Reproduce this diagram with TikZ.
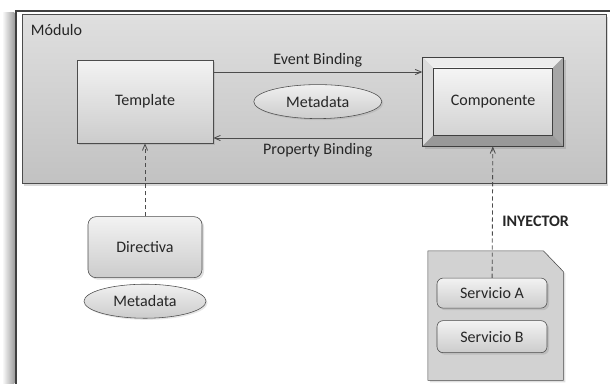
\documentclass[tikz,border=0pt]{standalone}
\usepackage{fontspec}
\setmainfont{Carlito}
\usetikzlibrary{shapes,arrows,positioning,shadows,calc}

\begin{document}
\begin{tikzpicture}[
    font=\fontsize{11.4}{13}\selectfont,
    node distance=1cm,
    box/.style={rectangle, draw=gray!60!black, top color=gray!10, bottom color=gray!40, minimum width=3.4cm, minimum height=2.075cm, align=center, text=black!85, drop shadow={opacity=0.25, shadow xshift=0.05cm, shadow yshift=-0.05cm}},
    roundbox/.style={box, rounded corners=0.2cm},
    meta/.style={ellipse, draw=gray!60!black, top color=gray!12, bottom color=gray!40, minimum width=3.2cm, minimum height=0.85cm, inner sep=0pt, text=black!85, drop shadow={opacity=0.2, shadow xshift=0.04cm, shadow yshift=-0.04cm}},
    bevel/.style={draw=gray!50!black, fill=gray!40, minimum width=3.525cm, minimum height=2.225cm, text=black!85, drop shadow={opacity=0.3, shadow xshift=0.06cm, shadow yshift=-0.06cm},
        path picture={
            \fill[gray!15] (path picture bounding box.north west) -- (path picture bounding box.north east) -- ([shift={(-0.27,-0.27)}]path picture bounding box.north east) -- ([shift={(0.27,-0.27)}]path picture bounding box.north west) -- cycle;
            \fill[gray!28] (path picture bounding box.north west) -- ([shift={(0.27,-0.27)}]path picture bounding box.north west) -- ([shift={(0.27,0.27)}]path picture bounding box.south west) -- (path picture bounding box.south west) -- cycle;
            \fill[gray!70] (path picture bounding box.north east) -- ([shift={(-0.27,-0.27)}]path picture bounding box.north east) -- ([shift={(-0.27,0.27)}]path picture bounding box.south east) -- (path picture bounding box.south east) -- cycle;
            \fill[gray!80] (path picture bounding box.south west) -- ([shift={(0.27,0.27)}]path picture bounding box.south west) -- ([shift={(-0.27,0.27)}]path picture bounding box.south east) -- (path picture bounding box.south east) -- cycle;
            \shade[top color=gray!8, bottom color=gray!35, draw=gray!50!black] ([shift={(0.27,-0.27)}]path picture bounding box.north west) rectangle ([shift={(-0.27,0.27)}]path picture bounding box.south east);
        }},
    arrow/.style={->, >=angle 45, draw=gray!60!black, semithick},
    dasharrow/.style={arrow, densely dashed},
    label/.style={text=black!85}
]
\useasboundingbox (0,0) rectangle (15.25,-9.575);

% Outer frame with shadow on the left
\shade[left color=white, right color=gray!75] (0.05,-0.3) rectangle (0.36,-9.7);
\draw[line width=1.6pt, black!75] (0.4,-9.7) -- (0.4,-0.275) -- (15.4,-0.275);

% Module
\node[rectangle, draw=gray!60!black, top color=gray!25, bottom color=gray!48, minimum width=14.6cm, minimum height=4.225cm, anchor=north west, drop shadow={opacity=0.3, shadow xshift=0.05cm, shadow yshift=-0.06cm}] (modulo) at (0.55,-0.35) {};
\node[label, anchor=west] (modlbl) at (0.65,-0.75) {Módulo};

% Template and Componente
\node[box] (template) at (3.625,-2.54) {Template};
\node[bevel, right=5.225cm of template] (componente) {Componente};
\node[meta] (meta1) at ($(template.east)!0.5!(componente.west)$) {Metadata};

% Directiva
\node[roundbox, minimum width=2.85cm, minimum height=1.525cm, below=1.825cm of template] (directiva) {Directiva};
\node[meta, minimum width=3.05cm, below=0.15cm of directiva] (meta2) {Metadata};

% Services
\node[minimum width=3.375cm, minimum height=3.225cm] (svcbox) at (12.39,-7.89) {};
\draw[gray!60!black, fill=gray!35, drop shadow={opacity=0.25, shadow xshift=0.05cm, shadow yshift=-0.05cm}] (svcbox.south west) -- (svcbox.north west) -- ([xshift=-0.5cm]svcbox.north east) -- ([yshift=-0.52cm]svcbox.north east) -- (svcbox.south east) -- cycle;
\node[roundbox, rounded corners=0.15cm, minimum width=2.75cm, minimum height=0.75cm, below=0.675cm of svcbox.north, xshift=-0.09cm] (svca) {Servicio A};
\node[roundbox, rounded corners=0.15cm, minimum width=2.75cm, minimum height=0.8cm, below=0.3cm of svca] (svcb) {Servicio B};

% Bindings
\draw[arrow] ([yshift=0.74cm]template.east) -- ([yshift=0.74cm]template.east -| componente.west) node[midway, above, label] {Event Binding};
\draw[arrow] ([yshift=-0.91cm]template.east -| componente.west) -- ([yshift=-0.91cm]template.east) node[midway, below, label] {Property Binding};

% Injection
\draw[dasharrow] (directiva) -- (template);
\draw[dasharrow] (svca) -- (componente) node[pos=0.43, right=0.12cm, label, font=\fontsize{11.4}{13}\selectfont\bfseries] {INYECTOR};

\end{tikzpicture}
\end{document}
